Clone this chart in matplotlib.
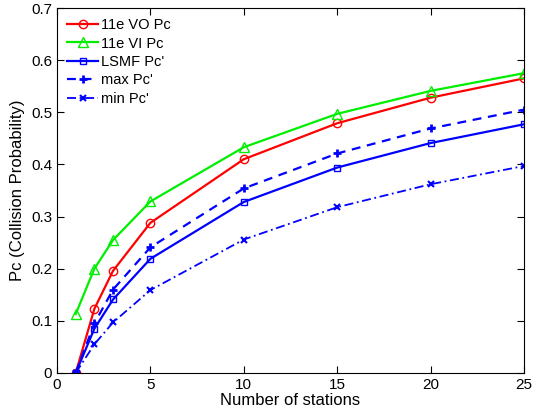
import matplotlib
matplotlib.use("Agg")
import matplotlib.pyplot as plt

plt.rcParams['font.family'] = ['Liberation Sans', 'DejaVu Sans']

stations = [1, 2, 3, 5, 10, 15, 20, 25]
vo_pc = [0.0, 0.123, 0.196, 0.288, 0.410, 0.479, 0.528, 0.565]
vi_pc = [0.113, 0.200, 0.255, 0.329, 0.433, 0.497, 0.541, 0.575]
lsmf_pc = [0.0, 0.085, 0.141, 0.219, 0.328, 0.394, 0.441, 0.477]
max_pc = [0.0, 0.095, 0.160, 0.241, 0.354, 0.421, 0.469, 0.505]
min_pc = [0.0, 0.055, 0.097, 0.159, 0.256, 0.318, 0.362, 0.397]

fig = plt.figure(figsize=(5.42, 4.13), dpi=100)
ax = fig.add_axes([57/542, 40/413, 467/542, 365/413])

ax.plot(stations, vo_pc, color='red', marker='o', mfc='none', ms=6, lw=1.6, label='11e VO Pc')
ax.plot(stations, vi_pc, color='#00ee00', marker='^', mfc='none', ms=7, lw=1.6, label='11e VI Pc')
ax.plot(stations, lsmf_pc, color='blue', marker='s', mfc='none', ms=5, lw=1.6, label="LSMF Pc'")
ax.plot(stations, max_pc, color='blue', marker='+', ms=6, mew=2, lw=1.6, ls=(0, (4, 3)), label="max Pc'")
ax.plot(stations, min_pc, color='blue', marker='x', ms=4, mew=1.5, lw=1.3, ls=(0, (5, 2, 1, 2)), label="min Pc'")

ax.set_xlim(0, 25)
ax.set_ylim(0, 0.7)
ax.set_xticks([0, 5, 10, 15, 20, 25])
ax.set_yticks([0, 0.1, 0.2, 0.3, 0.4, 0.5, 0.6, 0.7])
ax.set_yticklabels(['0', '0.1', '0.2', '0.3', '0.4', '0.5', '0.6', '0.7'])
ax.tick_params(direction='in', top=True, right=True, labelsize=11, length=5)
ax.set_xlabel('Number of stations', fontsize=12, labelpad=1)
ax.set_ylabel('Pc (Collision Probability)', fontsize=12, labelpad=4)
ax.legend(loc='upper left', frameon=False, fontsize=10.5, handlelength=2.1, handletextpad=0.2,
          labelspacing=0.3, borderaxespad=0.3)

fig.savefig('out.png', dpi=100)
